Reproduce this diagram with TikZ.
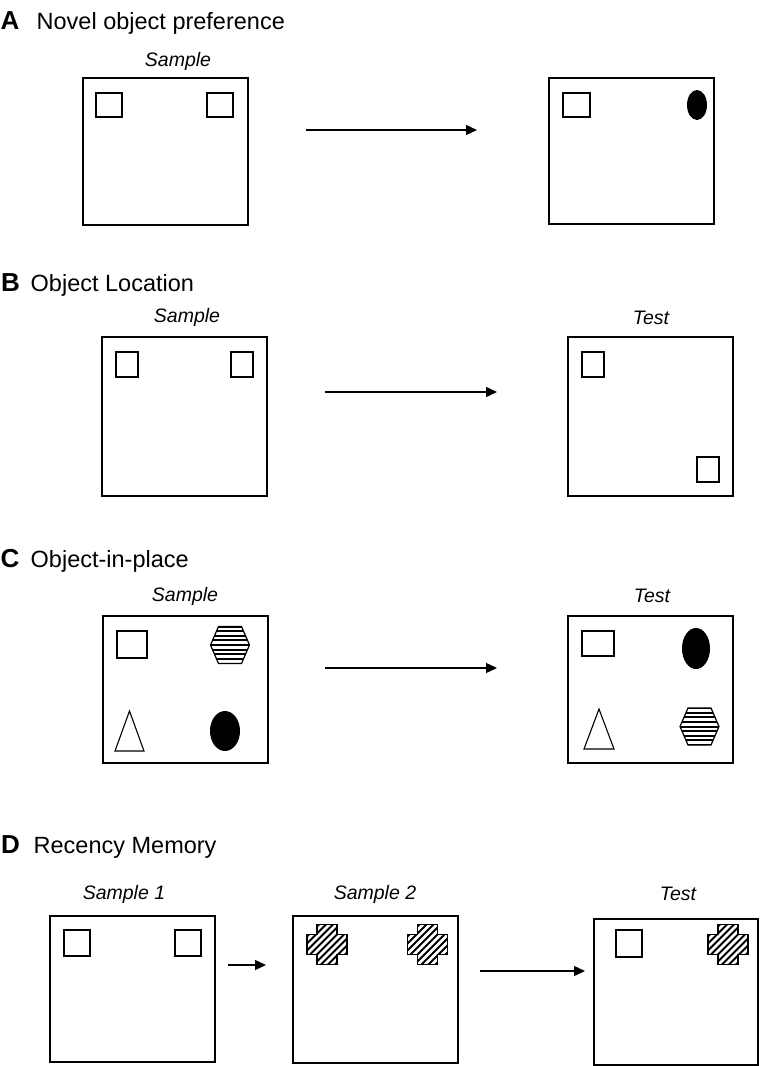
\documentclass[tikz,border=0pt]{standalone}
\usepackage{fontspec}
\setmainfont{Liberation Sans}
\usetikzlibrary{arrows.meta}
\tikzset{
  arena/.style={draw, line width=1.5pt, minimum width=165pt, minimum height=147pt, anchor=north west, inner sep=0pt, outer sep=0pt},
  obj/.style={draw, line width=1.1pt},
  flow/.style={line width=1.4pt, -{Triangle[length=11pt,width=10pt]}},
  paneltitle/.style={anchor=base west, inner sep=0pt, font=\fontsize{23.5}{27}\selectfont},
  panelletter/.style={anchor=base west, inner sep=0pt, font=\fontsize{26}{29}\selectfont\bfseries},
  phase/.style={anchor=base, inner sep=0pt, font=\fontsize{19.5}{23}\selectfont\itshape},
  hexobj/.pic={
    \begin{scope}
      \clip (-19.5,0) -- (-11.5,-18.5) -- (11.5,-18.5) -- (19.5,0) -- (11.5,18.5) -- (-11.5,18.5) -- cycle;
      \foreach \k in {0,...,8} \draw[line width=2pt] (-21,-18.5+\k*4.625) -- (21,-18.5+\k*4.625);
    \end{scope}
    \draw[line width=1.2pt, line join=round] (-19.5,0) -- (-11.5,-18.5) -- (11.5,-18.5) -- (19.5,0) -- (11.5,18.5) -- (-11.5,18.5) -- cycle;
  },
  crossobj/.pic={
    \begin{scope}
      \clip (-10,-20) -- (10,-20) -- (10,-10) -- (20,-10) -- (20,10) -- (10,10) -- (10,20) -- (-10,20) -- (-10,10) -- (-20,10) -- (-20,-10) -- (-10,-10) -- cycle;
      \foreach \s in {-42,-35,...,42} \draw[line width=1.8pt] (\s-25,25) -- (\s+25,-25);
    \end{scope}
    \draw[line width=1.2pt] (-10,-20) -- (10,-20) -- (10,-10) -- (20,-10) -- (20,10) -- (10,10) -- (10,20) -- (-10,20) -- (-10,10) -- (-20,10) -- (-20,-10) -- (-10,-10) -- cycle;
  }
}
\begin{document}
\begin{tikzpicture}[x=1pt,y=-1pt]
\useasboundingbox (0,0) rectangle (760,1066);

% ---------- Panel A ----------
\node[panelletter] (tA) at (0.5,29) {A};
\node[paneltitle] (ttA) at (36.5,29) {Novel object preference};
\node[phase] (sA) at (178,66) {Sample};
\node[arena] (A1) at (83,78) {};
\node[arena, minimum height=146pt] (A2) at (549,78) {};
\draw[obj] (96,93) rectangle (122,117);
\draw[obj] (207,93) rectangle (233,117);
\draw[obj] (563,93) rectangle (590,117);
\fill (697,105) ellipse [x radius=10, y radius=15];
\coordinate (aA1) at (306,130);
\coordinate (aA2) at (477,130);
\draw[flow] (aA1) -- (aA2);

% ---------- Panel B ----------
\node[panelletter] (tB) at (1,291) {B};
\node[paneltitle] (ttB) at (30.5,291) {Object Location};
\node[phase] (sB) at (187,322) {Sample};
\node[phase] (tsB) at (651,324) {Test};
\node[arena, minimum height=159pt] (B1) at (102,337) {};
\node[arena, minimum height=159pt] (B2) at (568,337) {};
\draw[obj] (116,352) rectangle (138,377);
\draw[obj] (231,352) rectangle (253,377);
\draw[obj] (582,352) rectangle (604,377);
\draw[obj] (697,457) rectangle (719,482);
\coordinate (aB1) at (325,392);
\coordinate (aB2) at (497,392);
\draw[flow] (aB1) -- (aB2);

% ---------- Panel C ----------
\node[panelletter] (tC) at (0.5,567) {C};
\node[paneltitle] (ttC) at (30.5,567) {Object-in-place};
\node[phase] (sC) at (185,601) {Sample};
\node[phase] (tsC) at (652,602) {Test};
\node[arena] (C1) at (103,616) {};
\node[arena] (C2) at (568,616) {};
\draw[obj] (117,631) rectangle (147,658);
\pic at (230,645) {hexobj};
\draw[obj, line join=miter] (115,751) -- (129.5,711) -- (144,751) -- cycle;
\fill (225,731) ellipse [x radius=15, y radius=20];
\draw[obj] (582,631) rectangle (614,656);
\fill (696,648.5) ellipse [x radius=14, y radius=20.5];
\draw[obj, line join=miter] (584,749) -- (599,709) -- (614,749) -- cycle;
\pic at (699.5,726.5) {hexobj};
\coordinate (aC1) at (325,668);
\coordinate (aC2) at (497,668);
\draw[flow] (aC1) -- (aC2);

% ---------- Panel D ----------
\node[panelletter] (tD) at (1,853) {D};
\node[paneltitle] (ttD) at (33.5,853) {Recency Memory};
\node[phase] (sD1) at (124,899) {Sample 1};
\node[phase] (sD2) at (375,899) {Sample 2};
\node[phase] (tsD) at (678,900) {Test};
\node[arena, minimum height=146pt] (D1) at (50,916) {};
\node[arena] (D2) at (293,916) {};
\node[arena, minimum width=164pt, minimum height=146pt] (D3) at (594,919) {};
\draw[obj] (64,930) rectangle (90,956);
\draw[obj] (175,930) rectangle (201,956);
\pic at (327,944.5) {crossobj};
\pic at (427.5,944.5) {crossobj};
\draw[obj] (616,930) rectangle (642,957);
\pic at (728,944.5) {crossobj};
\coordinate (aD1) at (228,965);
\coordinate (aD2) at (266,965);
\draw[flow] (aD1) -- (aD2);
\coordinate (aD3) at (480,971);
\coordinate (aD4) at (585,971);
\draw[flow] (aD3) -- (aD4);
\end{tikzpicture}
\end{document}
